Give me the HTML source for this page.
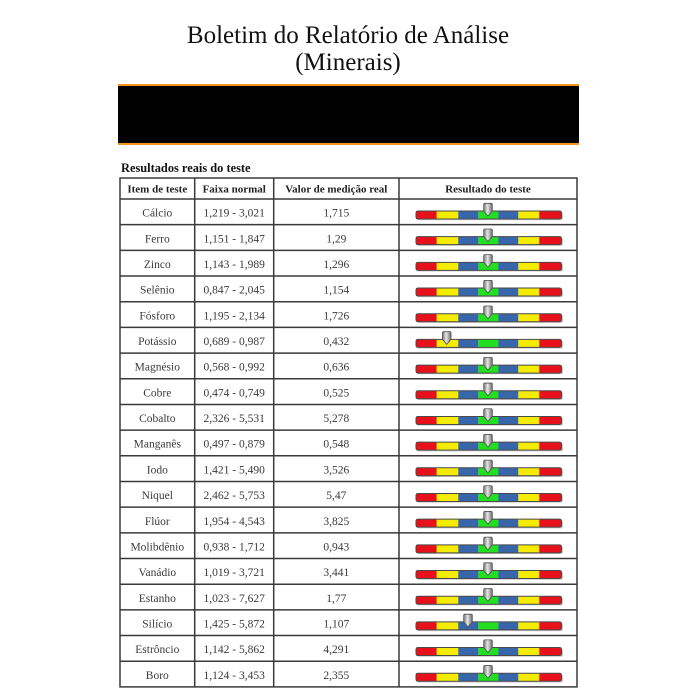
<!DOCTYPE html>
<html><head><meta charset="utf-8"><style>
html,body{margin:0;padding:0;background:#fff;}
svg{display:block;}
.t{font-family:"Liberation Serif",serif;}
.h{font-family:"Liberation Serif",serif;font-weight:bold;font-size:11px;fill:#222;text-anchor:middle;}
.b{font-family:"Liberation Serif",serif;font-size:11.5px;fill:#3a3a3a;text-anchor:middle;}
</style></head><body>
<svg width="700" height="700" viewBox="0 0 700 700" xmlns="http://www.w3.org/2000/svg">
<defs>
<linearGradient id="mg" x1="0" x2="1" y1="0" y2="0">
<stop offset="0" stop-color="#777"/><stop offset="0.45" stop-color="#e6e6e6"/><stop offset="1" stop-color="#6a6a6a"/>
</linearGradient>
<g id="bar">
<rect x="417" y="13.2" width="146" height="8" rx="2" fill="#888" opacity="0.45"/>
<rect x="416" y="12" width="20.7" height="8" fill="#e8101a"/>
<rect x="436.7" y="12" width="21.6" height="8" fill="#f5ec00"/>
<rect x="458.3" y="12" width="20" height="8" fill="#3866aa"/>
<rect x="478.3" y="12" width="20" height="8" fill="#20e020"/>
<rect x="498.3" y="12" width="20" height="8" fill="#3866aa"/>
<rect x="518.3" y="12" width="21" height="8" fill="#f5ec00"/>
<rect x="539.3" y="12" width="22.2" height="8" fill="#e8101a"/>
<rect x="416" y="12" width="145.5" height="8" rx="2" fill="none" stroke="#4a4a4a" stroke-width="1"/>
</g>
<path id="mk" d="M-4.3,5.6 Q-4.3,4.3 -3.2,4.3 L3.2,4.3 Q4.3,4.3 4.3,5.6 L4.3,12 L0,17 L-4.3,12 Z" fill="url(#mg)" stroke="#505050" stroke-width="0.8"/>
</defs>

<text class="t" x="348" y="43" font-size="25" fill="#111" text-anchor="middle">Boletim do Relatório de Análise</text>
<text class="t" x="348" y="70" font-size="25" fill="#111" text-anchor="middle">(Minerais)</text>

<rect x="118" y="84" width="461" height="2" fill="#f7941d"/>
<rect x="118" y="86" width="461" height="57" fill="#000"/>
<rect x="118" y="143" width="461" height="2" fill="#f7941d"/>

<text class="t" x="121" y="172" font-size="12.4" font-weight="bold" fill="#111">Resultados reais do teste</text>

<!-- table grid -->
<g stroke="#3a3a3a" stroke-width="1.5" fill="none">
<rect x="120" y="178" width="457" height="508.9"/>
<line x1="194.7" y1="178" x2="194.7" y2="686.9"/>
<line x1="273.7" y1="178" x2="273.7" y2="686.9"/>
<line x1="399" y1="178" x2="399" y2="686.9"/>
<line x1="120" y1="199" x2="577" y2="199"/>
<line x1="120" y1="224.68" x2="577" y2="224.68"/>
<line x1="120" y1="250.36" x2="577" y2="250.36"/>
<line x1="120" y1="276.04" x2="577" y2="276.04"/>
<line x1="120" y1="301.72" x2="577" y2="301.72"/>
<line x1="120" y1="327.40" x2="577" y2="327.40"/>
<line x1="120" y1="353.08" x2="577" y2="353.08"/>
<line x1="120" y1="378.76" x2="577" y2="378.76"/>
<line x1="120" y1="404.44" x2="577" y2="404.44"/>
<line x1="120" y1="430.12" x2="577" y2="430.12"/>
<line x1="120" y1="455.80" x2="577" y2="455.80"/>
<line x1="120" y1="481.48" x2="577" y2="481.48"/>
<line x1="120" y1="507.16" x2="577" y2="507.16"/>
<line x1="120" y1="532.84" x2="577" y2="532.84"/>
<line x1="120" y1="558.52" x2="577" y2="558.52"/>
<line x1="120" y1="584.20" x2="577" y2="584.20"/>
<line x1="120" y1="609.88" x2="577" y2="609.88"/>
<line x1="120" y1="635.56" x2="577" y2="635.56"/>
<line x1="120" y1="661.24" x2="577" y2="661.24"/>
</g>

<text class="h" x="157.3" y="192.3">Item de teste</text>
<text class="h" x="234.2" y="192.3">Faixa normal</text>
<text class="h" x="336.3" y="192.3">Valor de medição real</text>
<text class="h" x="488" y="192.3">Resultado do teste</text>

<g transform="translate(0,199)"><text class="b" x="157.3" y="17.6">Cálcio</text><text class="b" x="234.2" y="17.6">1,219 - 3,021</text><text class="b" x="336.3" y="17.6">1,715</text><use href="#bar"/><use href="#mk" x="488"/></g>
<g transform="translate(0,224.68)"><text class="b" x="157.3" y="17.6">Ferro</text><text class="b" x="234.2" y="17.6">1,151 - 1,847</text><text class="b" x="336.3" y="17.6">1,29</text><use href="#bar"/><use href="#mk" x="488"/></g>
<g transform="translate(0,250.36)"><text class="b" x="157.3" y="17.6">Zinco</text><text class="b" x="234.2" y="17.6">1,143 - 1,989</text><text class="b" x="336.3" y="17.6">1,296</text><use href="#bar"/><use href="#mk" x="488"/></g>
<g transform="translate(0,276.04)"><text class="b" x="157.3" y="17.6">Selênio</text><text class="b" x="234.2" y="17.6">0,847 - 2,045</text><text class="b" x="336.3" y="17.6">1,154</text><use href="#bar"/><use href="#mk" x="488"/></g>
<g transform="translate(0,301.72)"><text class="b" x="157.3" y="17.6">Fósforo</text><text class="b" x="234.2" y="17.6">1,195 - 2,134</text><text class="b" x="336.3" y="17.6">1,726</text><use href="#bar"/><use href="#mk" x="488"/></g>
<g transform="translate(0,327.40)"><text class="b" x="157.3" y="17.6">Potássio</text><text class="b" x="234.2" y="17.6">0,689 - 0,987</text><text class="b" x="336.3" y="17.6">0,432</text><use href="#bar"/><use href="#mk" x="446.7"/></g>
<g transform="translate(0,353.08)"><text class="b" x="157.3" y="17.6">Magnésio</text><text class="b" x="234.2" y="17.6">0,568 - 0,992</text><text class="b" x="336.3" y="17.6">0,636</text><use href="#bar"/><use href="#mk" x="488"/></g>
<g transform="translate(0,378.76)"><text class="b" x="157.3" y="17.6">Cobre</text><text class="b" x="234.2" y="17.6">0,474 - 0,749</text><text class="b" x="336.3" y="17.6">0,525</text><use href="#bar"/><use href="#mk" x="488"/></g>
<g transform="translate(0,404.44)"><text class="b" x="157.3" y="17.6">Cobalto</text><text class="b" x="234.2" y="17.6">2,326 - 5,531</text><text class="b" x="336.3" y="17.6">5,278</text><use href="#bar"/><use href="#mk" x="488"/></g>
<g transform="translate(0,430.12)"><text class="b" x="157.3" y="17.6">Manganês</text><text class="b" x="234.2" y="17.6">0,497 - 0,879</text><text class="b" x="336.3" y="17.6">0,548</text><use href="#bar"/><use href="#mk" x="488"/></g>
<g transform="translate(0,455.80)"><text class="b" x="157.3" y="17.6">Iodo</text><text class="b" x="234.2" y="17.6">1,421 - 5,490</text><text class="b" x="336.3" y="17.6">3,526</text><use href="#bar"/><use href="#mk" x="488"/></g>
<g transform="translate(0,481.48)"><text class="b" x="157.3" y="17.6">Niquel</text><text class="b" x="234.2" y="17.6">2,462 - 5,753</text><text class="b" x="336.3" y="17.6">5,47</text><use href="#bar"/><use href="#mk" x="488"/></g>
<g transform="translate(0,507.16)"><text class="b" x="157.3" y="17.6">Flúor</text><text class="b" x="234.2" y="17.6">1,954 - 4,543</text><text class="b" x="336.3" y="17.6">3,825</text><use href="#bar"/><use href="#mk" x="488"/></g>
<g transform="translate(0,532.84)"><text class="b" x="157.3" y="17.6">Molibdênio</text><text class="b" x="234.2" y="17.6">0,938 - 1,712</text><text class="b" x="336.3" y="17.6">0,943</text><use href="#bar"/><use href="#mk" x="488"/></g>
<g transform="translate(0,558.52)"><text class="b" x="157.3" y="17.6">Vanádio</text><text class="b" x="234.2" y="17.6">1,019 - 3,721</text><text class="b" x="336.3" y="17.6">3,441</text><use href="#bar"/><use href="#mk" x="488"/></g>
<g transform="translate(0,584.20)"><text class="b" x="157.3" y="17.6">Estanho</text><text class="b" x="234.2" y="17.6">1,023 - 7,627</text><text class="b" x="336.3" y="17.6">1,77</text><use href="#bar"/><use href="#mk" x="488"/></g>
<g transform="translate(0,609.88)"><text class="b" x="157.3" y="17.6">Silício</text><text class="b" x="234.2" y="17.6">1,425 - 5,872</text><text class="b" x="336.3" y="17.6">1,107</text><use href="#bar"/><use href="#mk" x="468"/></g>
<g transform="translate(0,635.56)"><text class="b" x="157.3" y="17.6">Estrôncio</text><text class="b" x="234.2" y="17.6">1,142 - 5,862</text><text class="b" x="336.3" y="17.6">4,291</text><use href="#bar"/><use href="#mk" x="488"/></g>
<g transform="translate(0,661.24)"><text class="b" x="157.3" y="17.6">Boro</text><text class="b" x="234.2" y="17.6">1,124 - 3,453</text><text class="b" x="336.3" y="17.6">2,355</text><use href="#bar"/><use href="#mk" x="488"/></g>
</svg>
</body></html>
